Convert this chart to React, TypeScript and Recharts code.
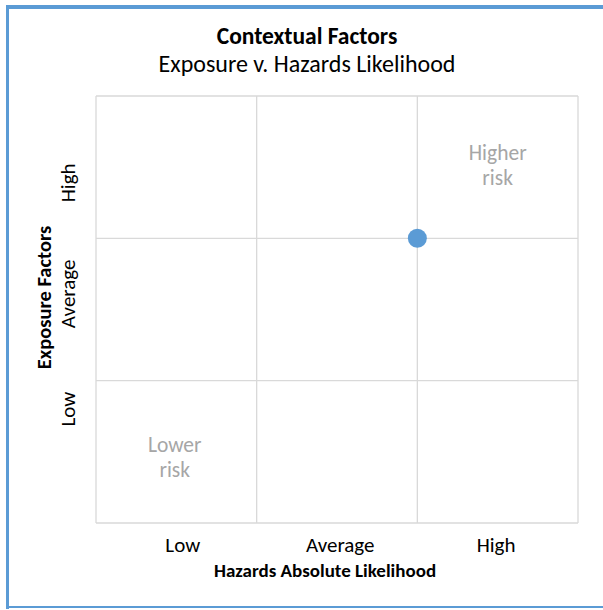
import { ScatterChart, Scatter, XAxis, YAxis, ReferenceLine, ReferenceDot, Label } from "recharts";

// category tick positions (labels sit between the grid lines, as in the source sheet)
const hazardTicks = [0.54, 1.52, 2.49];
const hazardNames = ["Low", "Average", "High"];
const exposureTicks = [0.8, 1.61, 2.39];
const exposureNames = ["Low", "Average", "High"];
const gridValues = [0, 1, 2, 3];

const factors = [{ hazard: 2, exposure: 2 }];

const riskNotes = [
  { hazard: 2.5, exposure: 2.55, lines: ["Higher", "risk"] },
  { hazard: 0.49, exposure: 0.5, lines: ["Lower", "risk"] },
];

const font = "Carlito, Calibri, Lato, sans-serif";
const gridColor = "#d9d9d9";
const blue = "#5b9bd5";

const ExposureTick = (props: any) => {
  const { x, y, payload, index } = props;
  let i = exposureTicks.indexOf(payload.value);
  if (i < 0) i = index;
  return (
    <text
      x={x}
      y={y}
      dy="0.35em"
      transform={`rotate(-90, ${x}, ${y})`}
      textAnchor="middle"
      fontSize={21}
      fontFamily={font}
      fill="#000"
    >
      {exposureNames[i]}
    </text>
  );
};

const emptyTick = () => <g />;

export default function App() {
  return (
    <div
      style={{
        position: "fixed",
        left: 0,
        top: 0,
        width: 660,
        height: 610,
        background: "#fff",
        fontFamily: font,
      }}
    >
      <div style={{ position: "absolute", left: 0, top: 0 }}>
        <ScatterChart width={603} height={610} margin={{ top: 92, right: 21, bottom: 0, left: 0 }}>
          {gridValues.map((v) => (
            <ReferenceLine key={`gx${v}`} x={v} stroke={gridColor} strokeWidth={1.3} />
          ))}
          {gridValues.map((v) => (
            <ReferenceLine key={`gy${v}`} y={v} stroke={gridColor} strokeWidth={1.3} />
          ))}
          <XAxis
            type="number"
            dataKey="hazard"
            domain={[0, 3]}
            ticks={hazardTicks}
            tickFormatter={(v: number, i: number) => hazardNames[hazardTicks.indexOf(v)] ?? hazardNames[i]}
            axisLine={false}
            tickLine={false}
            tickSize={0}
            tickMargin={14}
            height={87}
            tick={{ fill: "#000", fontSize: 21, fontFamily: font }}
          >
            <Label
              content={({ viewBox }: any) => {
                const cx = viewBox ? viewBox.x + viewBox.width / 2 - 12 : 325;
                return (
                  <text x={cx} y={577} textAnchor="middle" fontSize={19} fontWeight="bold" fontFamily={font} fill="#000">
                    Hazards Absolute Likelihood
                  </text>
                );
              }}
            />
          </XAxis>
          <XAxis
            xAxisId="top"
            orientation="top"
            type="number"
            dataKey="hazard"
            domain={[0, 3]}
            ticks={gridValues}
            axisLine={false}
            tickSize={4}
            tickLine={{ stroke: gridColor, strokeWidth: 1.3 }}
            tick={emptyTick}
            height={4}
          />
          <YAxis
            type="number"
            dataKey="exposure"
            domain={[0, 3]}
            ticks={exposureTicks}
            axisLine={false}
            tickLine={false}
            tickSize={0}
            tickMargin={28}
            width={96}
            tick={<ExposureTick />}
          >
            <Label
              content={({ viewBox }: any) => {
                const cx = 44;
                const cy = viewBox ? viewBox.y + viewBox.height / 2 - 12 : 297;
                return (
                  <text
                    x={cx}
                    y={cy}
                    dy="0.35em"
                    transform={`rotate(-90, ${cx}, ${cy})`}
                    textAnchor="middle"
                    fontSize={20.5}
                    fontWeight="bold"
                    fontFamily={font}
                    fill="#000"
                  >
                    Exposure Factors
                  </text>
                );
              }}
            />
          </YAxis>
          <YAxis
            yAxisId="right"
            orientation="right"
            type="number"
            dataKey="exposure"
            domain={[0, 3]}
            ticks={gridValues}
            axisLine={false}
            tickSize={4}
            tickLine={{ stroke: gridColor, strokeWidth: 1.3 }}
            tick={emptyTick}
            width={4}
          />
          {riskNotes.map((n) => (
            <ReferenceDot
              key={n.lines[0]}
              x={n.hazard}
              y={n.exposure}
              r={0}
              fill="none"
              stroke="none"
              label={{
                content: ({ viewBox }: any) => {
                  const cx = viewBox.x + (viewBox.width || 0) / 2;
                  const cy = viewBox.y + (viewBox.height || 0) / 2;
                  return (
                    <text textAnchor="middle" fontSize={21.5} fontFamily={font} fill="#a6a6a6">
                      {n.lines.map((line, i) => (
                        <tspan key={line} x={cx} y={cy + i * 25}>
                          {line}
                        </tspan>
                      ))}
                    </text>
                  );
                },
              }}
            />
          ))}
          <Scatter
            data={factors}
            isAnimationActive={false}
            shape={(p: any) => <circle cx={p.cx} cy={p.cy} r={9.5} fill={blue} />}
          />
        </ScatterChart>
      </div>
      <svg
        width={660}
        height={610}
        style={{ position: "absolute", left: 0, top: 0, pointerEvents: "none" }}
      >
        {/* chart frame: left, top and bottom edges only (right edge runs off the picture) */}
        <line x1={7.5} y1={5} x2={7.5} y2={609} stroke={blue} strokeWidth={3} />
        <line x1={6} y1={7} x2={660} y2={7} stroke={blue} strokeWidth={4} />
        <line x1={6} y1={607} x2={660} y2={607} stroke={blue} strokeWidth={2} />
        <text x={307} y={44} textAnchor="middle" fontSize={23.5} fontWeight="bold" fontFamily={font} fill="#000">
          Contextual Factors
        </text>
        <text x={307} y={72} textAnchor="middle" fontSize={24} fontFamily={font} fill="#000">
          Exposure v. Hazards Likelihood
        </text>
      </svg>
    </div>
  );
}
